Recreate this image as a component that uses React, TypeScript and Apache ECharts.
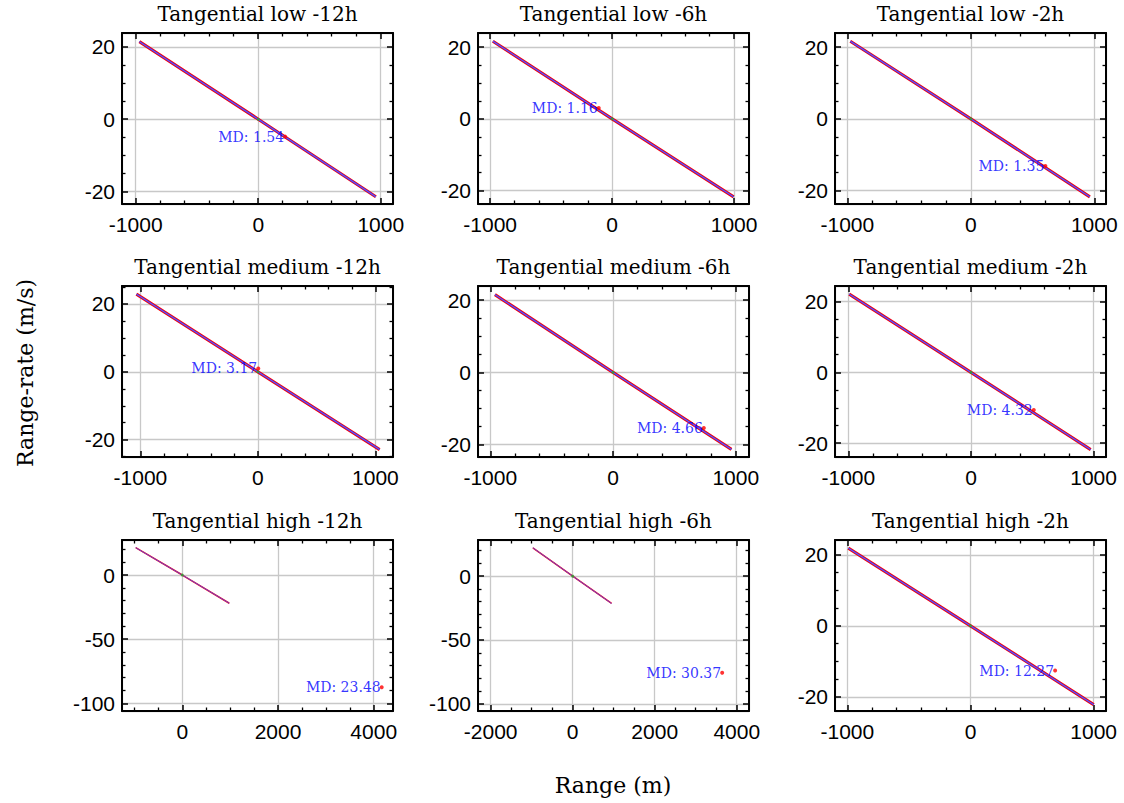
import React, { useEffect, useRef } from 'react';
import * as echarts from 'echarts';

const titles = [
  'Tangential low -12h', 'Tangential low -6h', 'Tangential low -2h',
  'Tangential medium -12h', 'Tangential medium -6h', 'Tangential medium -2h',
  'Tangential high -12h', 'Tangential high -6h', 'Tangential high -2h',
];
const xMin = [-1112, -1100, -1100, -1157, -1100, -1109, -1260, -2309, -1100];
const xMax = [1100, 1122, 1095, 1150, 1108, 1101, 4403, 4299, 1100];
const yMin = [-23.4, -23.7, -23.7, -25.1, -23.4, -23.9, -106, -105.6, -24];
const yMax = [23.8, 23.9, 23.9, 25.3, 23.9, 24.4, 27.3, 28.3, 24.2];
const xStep = [1000, 1000, 1000, 1000, 1000, 1000, 2000, 2000, 1000];
const yStep = [20, 20, 20, 20, 20, 20, 50, 50, 20];

const trajRange = [
  [-970, 0, 960], [-978, 0, 996], [-976, 0, 964],
  [-1034, 0, 1036], [-962, 0, 965], [-993, 0, 976],
  [-974, 0, 982], [-972, 0, 948], [-992, 0, 1000],
];
const trajRate = [
  [21.4, 0, -21.4], [21.6, 0, -21.7], [21.6, 0, -21.7],
  [22.9, 0, -22.9], [21.5, 0, -21.3], [22.1, 0, -21.8],
  [21.3, 0, -22.0], [22.2, 0, -21.4], [21.9, 0, -22.2],
];
const mdRange = [220, -110, 604, 3, 740, 512, 4167, 3645, 687];
const mdRate = [-4.8, 3.0, -13.1, 1.0, -15.4, -10.6, -87.5, -75.6, -12.6];
const mdValue = ['1.54', '1.16', '1.35', '3.17', '4.66', '4.32', '23.48', '30.37', '12.27'];

const colLeft = [122, 478, 835];
const rowTop = [33, 286, 540];
const gridW = 271;
const gridH = 171;

const minorSplitFor = (step: number) => (step === 1000 ? 5 : step === 2000 ? 4 : step === 20 ? 4 : 5);

function makeAxis(gi: number, min: number, max: number, step: number, pos: string, primary: boolean, isX: boolean) {
  return {
    type: 'value',
    gridIndex: gi,
    position: pos,
    min,
    max,
    minInterval: step,
    maxInterval: step,
    splitNumber: 3,
    axisLine: { show: true, onZero: false, lineStyle: { color: '#000', width: 2 } },
    axisTick: { show: true, inside: true, length: 6, lineStyle: { color: '#000', width: 1.5 } },
    minorTick: { show: true, splitNumber: minorSplitFor(step), length: 3.5, lineStyle: { color: '#000', width: 1.3 } },
    splitLine: { show: primary, lineStyle: { color: '#c8c8c8', width: 1.3 } },
    minorSplitLine: { show: false },
    axisLabel: {
      show: primary,
      showMinLabel: false,
      showMaxLabel: false,
      margin: isX ? 10 : 7,
      color: '#000',
      fontFamily: 'Liberation Sans',
      fontSize: 21,
      formatter: (v: number) => String(v),
    },
  };
}

export default function App() {
  const ref = useRef<HTMLDivElement>(null);
  useEffect(() => {
    document.body.style.margin = '0';
    if (!ref.current) return;
    const chart = echarts.init(ref.current, undefined, { renderer: 'svg' });
    const grid: any[] = [];
    const xAxis: any[] = [];
    const yAxis: any[] = [];
    const series: any[] = [];
    const graphic: any[] = [];
    for (let i = 0; i < 9; i++) {
      const r = Math.floor(i / 3);
      const c = i % 3;
      grid.push({ left: colLeft[c], top: rowTop[r], width: gridW, height: gridH, containLabel: false });
      xAxis.push(makeAxis(i, xMin[i], xMax[i], xStep[i], 'bottom', true, true));
      xAxis.push(makeAxis(i, xMin[i], xMax[i], xStep[i], 'top', false, true));
      yAxis.push(makeAxis(i, yMin[i], yMax[i], yStep[i], 'left', true, false));
      yAxis.push(makeAxis(i, yMin[i], yMax[i], yStep[i], 'right', false, false));
      const pts = trajRange[i].map((x, k) => [x, trajRate[i][k]]);
      const wide = yMax[i] - yMin[i] < 60;
      series.push({
        type: 'line', xAxisIndex: 2 * i, yAxisIndex: 2 * i, data: pts, showSymbol: false,
        lineStyle: { color: '#ff0000', width: wide ? 3.2 : 1.5 }, silent: true, z: 2,
      });
      series.push({
        type: 'line', xAxisIndex: 2 * i, yAxisIndex: 2 * i, data: pts, showSymbol: false,
        lineStyle: { color: '#3030ff', width: wide ? 1.6 : 0.8, opacity: 0.9 }, silent: true, z: 3,
      });
      series.push({
        type: 'line', xAxisIndex: 2 * i, yAxisIndex: 2 * i, data: pts, showSymbol: false,
        lineStyle: { color: '#8a8aff', width: wide ? 0.6 : 0.3, opacity: 0.9 }, silent: true, z: 3,
      });
      series.push({
        type: 'scatter', xAxisIndex: 2 * i, yAxisIndex: 2 * i, data: [[0, 0]], symbolSize: 3,
        itemStyle: { color: '#2ca02c' }, silent: true, z: 4,
      });
      series.push({
        type: 'scatter', xAxisIndex: 2 * i, yAxisIndex: 2 * i, data: [[mdRange[i], mdRate[i]]],
        symbolSize: 4, itemStyle: { color: '#ff0000' }, silent: true, z: 5,
        label: {
          show: true, position: 'left', distance: -1,
          formatter: 'MD: ' + mdValue[i],
          color: '#0000ff', fontFamily: 'DejaVu Serif', fontSize: 14,
        },
      });
      graphic.push({
        type: 'text', x: colLeft[c] + gridW / 2, y: rowTop[r] - 19.5,
        style: {
          text: titles[i], fill: '#000', font: '20px "DejaVu Serif"',
          textAlign: 'center', textVerticalAlign: 'middle',
        },
      });
    }
    graphic.push({
      type: 'text', x: 613, y: 785,
      style: { text: 'Range (m)', fill: '#000', font: '22px "DejaVu Serif"', textAlign: 'center', textVerticalAlign: 'middle' },
    });
    graphic.push({
      type: 'text', x: 25, y: 373, rotation: Math.PI / 2,
      style: { text: 'Range-rate (m/s)', fill: '#000', font: '22px "DejaVu Serif"', textAlign: 'center', textVerticalAlign: 'middle' },
    });
    chart.setOption({
      animation: false,
      backgroundColor: '#ffffff',
      grid, xAxis, yAxis, series, graphic,
    });
    return () => chart.dispose();
  }, []);
  return <div ref={ref} style={{ width: 1124, height: 803 }} />;
}
